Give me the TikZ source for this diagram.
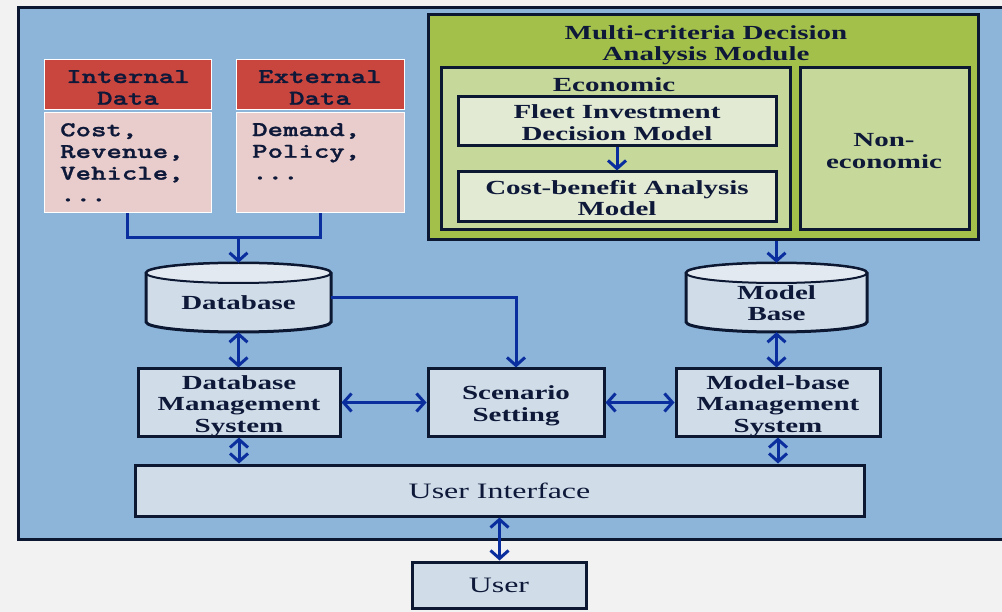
\documentclass[tikz,border=0pt]{standalone}
\usepackage{fontspec}
\setmainfont{Liberation Serif}[FakeStretch=1.45]
\newfontfamily\dmono{lmmonolt10-bold.otf}[FakeStretch=1.4,FakeBold=1.2]
\usetikzlibrary{arrows.meta}
\definecolor{bgc}{HTML}{F2F2F2}
\definecolor{panel}{HTML}{8DB5DA}
\definecolor{edge}{HTML}{0C1731}
\definecolor{boxc}{HTML}{D0DDE9}
\definecolor{cyltop}{HTML}{E3E9F1}
\definecolor{arrc}{HTML}{0B2E9E}
\definecolor{redh}{HTML}{C9463F}
\definecolor{pinkb}{HTML}{E9CDCD}
\definecolor{greenA}{HTML}{A3C14A}
\definecolor{greenB}{HTML}{C6D99A}
\definecolor{greenC}{HTML}{E2EAD3}
\definecolor{txt}{HTML}{0E1838}
\tikzset{
  sfont/.style={font=\fontsize{20}{21.5}\selectfont\bfseries},
  rfont/.style={font=\fontsize{22}{24}\selectfont},
  mfont/.style={font=\dmono\fontsize{21}{21.7}\selectfont},
  box/.style={draw=edge, line width=3pt, fill=boxc, inner sep=0pt, text=txt, align=center, sfont},
  gbox/.style={box, fill=greenB},
  wbox/.style={box, fill=greenC},
  hdr/.style={draw=white, line width=1pt, fill=redh, inner sep=0pt},
  bdy/.style={draw=white, line width=1pt, fill=pinkb, inner sep=0pt},
  lbl/.style={inner sep=0pt, text=txt, align=center, sfont},
  mlbl/.style={inner sep=0pt, text=txt, mfont},
  cylbody/.style={draw=edge, line width=3pt, fill=boxc},
  cyltopst/.style={draw=edge, line width=2pt, fill=cyltop},
  conn/.style={draw=arrc, line width=3pt},
  arr/.style={conn, -{Straight Barb[length=8pt,width=18pt]}},
  darr/.style={conn, {Straight Barb[length=8pt,width=18pt]}-{Straight Barb[length=8pt,width=18pt]}},
}
\begin{document}
\begin{tikzpicture}[x=1pt,y=-1pt]
\useasboundingbox (0,0) rectangle (1002,612);
\fill[bgc] (0,0) rectangle (1002,612);
% main panel
\draw[line width=3pt, draw=edge, fill=panel] (18,8) rectangle (1014,539);

% data boxes
\node[hdr, minimum width=167pt, minimum height=50pt] (inth) at (127.5,85) {};
\node[mlbl, align=center] (intht) at (128,87.5) {Internal\\Data};
\node[bdy, minimum width=167pt, minimum height=100pt] (intb) at (127.5,163) {};
\node[mlbl, anchor=north west, align=left] (intt) at (60,123) {Cost,\\Revenue,\\Vehicle,\\...};
\node[hdr, minimum width=168pt, minimum height=50pt] (exth) at (320,85) {};
\node[mlbl, align=center] (extht) at (320,87.5) {External\\Data};
\node[bdy, minimum width=168pt, minimum height=100pt] (extb) at (320,163) {};
\node[mlbl, anchor=north west, align=left] (extt) at (252,123) {Demand,\\Policy,\\...};

% MCDA module
\node[box, fill=greenA, minimum width=550pt, minimum height=225pt] (mcda) at (703,127.5) {};
\node[lbl] (mcdat) at (706,45) {Multi-criteria Decision\\Analysis Module};
\node[gbox, minimum width=349pt, minimum height=162pt] (eco) at (615.5,149) {};
\node[lbl] (ecot) at (614,85) {Economic};
\node[wbox, minimum width=318pt, minimum height=49pt] (fleet) at (617,121.5) {};
\node[lbl] (fleett) at (617,122.5) {Fleet Investment\\Decision Model};
\node[wbox, minimum width=318pt, minimum height=50pt] (cba) at (617,197) {};
\node[lbl] (cbat) at (617,198) {Cost-benefit Analysis\\Model};
\node[gbox, minimum width=169pt, minimum height=162pt] (neco) at (884.5,149) {};
\node[lbl] (necot) at (884,151) {Non-\\economic};

% cylinders
\draw[cylbody] (146,273) -- (146,322) arc[start angle=180,end angle=360,x radius=92.5pt,y radius=10pt] -- (331,273) arc[start angle=0,end angle=180,x radius=92.5pt,y radius=10pt] -- cycle;
\draw[cyltopst] (238.5,273) ellipse [x radius=92.5pt, y radius=10pt];
\node[inner sep=0pt, minimum width=185pt, minimum height=69pt] (db) at (238.5,297.5) {};
\node[lbl] (dbt) at (238.5,303) {Database};

\draw[cylbody] (686,273) -- (686,322) arc[start angle=180,end angle=360,x radius=90.5pt,y radius=10pt] -- (867,273) arc[start angle=0,end angle=180,x radius=90.5pt,y radius=10pt] -- cycle;
\draw[cyltopst] (776.5,273) ellipse [x radius=90.5pt, y radius=10pt];
\node[inner sep=0pt, minimum width=181pt, minimum height=69pt] (mb) at (776.5,297.5) {};
\node[lbl] (mbt) at (776.5,303) {Model\\Base};

% management row
\node[box, minimum width=202pt, minimum height=67pt] (dbms) at (239,402.5) {};
\node[lbl] (dbmst) at (239,406) {Database\\Management\\System};
\node[box, minimum width=176pt, minimum height=67pt] (scen) at (516,402.5) {};
\node[lbl] (scent) at (516,406) {Scenario\\Setting};
\node[box, minimum width=204pt, minimum height=67pt] (mbms) at (778,402.5) {};
\node[lbl] (mbmst) at (778,406) {Model-base\\Management\\System};

% user interface
\node[box, rfont, minimum width=729pt, minimum height=51pt] (ui) at (499.5,490.5) {User Interface};
\node[box, rfont, minimum width=174pt, minimum height=46pt] (user) at (499,585) {User};

% connectors
\coordinate (j) at (238.5,238);
\draw[conn] (intb.south) -- (intb.south |- j) -| (extb.south);
\draw[arr] (j) -- (db.north);
\draw[arr] (fleet.south) -- (cba.north);
\draw[arr] (mb.north |- mcda.south) -- (mb.north);
\draw[arr] (db.east) -| (scen.north);
\draw[darr] (db.south) -- (db.south |- dbms.north);
\draw[darr] (mb.south) -- (mb.south |- mbms.north);
\draw[darr] (dbms.east) -- (scen.west);
\draw[darr] (scen.east) -- (mbms.west);
\draw[darr] (dbms.south) -- (dbms.south |- ui.north);
\draw[darr] (mbms.south) -- (mbms.south |- ui.north);
\draw[darr] (ui.south) -- (ui.south |- user.north);
\end{tikzpicture}
\end{document}
